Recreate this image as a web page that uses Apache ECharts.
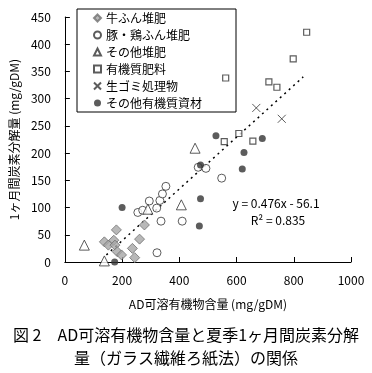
<!DOCTYPE html>
<html><head><meta charset="utf-8">
<script src="https://cdn.jsdelivr.net/npm/echarts@6/dist/echarts.min.js"></script>
<style>html,body{margin:0;padding:0;background:#fff}#c{width:372px;height:373px}</style>
</head><body><div id="c"></div>
<script>
const FONT = '"Noto Sans CJK JP", "Noto Sans", sans-serif';
const seriesNames = ['牛ふん堆肥', '豚・鶏ふん堆肥', 'その他堆肥', '有機質肥料', '生ゴミ処理物', 'その他有機質資材'];
const cattleManure = [[180,59],[278,68],[261,42],[138,37],[152,31],[171,40],[175,31],[183,19],[198,13],[236,25],[244,8]];
const pigChickenManure = [[255,91],[272,95],[295,112],[321,99],[332,113],[341,125],[353,139],[336,75],[410,75],[322,17],[466,174],[493,172],[548,154]];
const otherCompost = [[68,31],[138,2],[290,97],[407,105],[455,209]];
const organicFertilizer = [[557,221],[608,236],[657,222],[562,338],[713,331],[741,321],[798,373],[845,422]];
const foodWaste = [[669,283],[758,263]];
const otherOrganic = [[200,100],[174,0],[528,232],[474,178],[474,116],[470,66],[690,227],[626,201],[620,171]];
const trendLine = [[145,13],[833,340]];
const equationText = 'y = 0.476x - 56.1';
const r2Text = 'R² = 0.835';
const xAxisName = 'AD可溶有機物含量 (mg/gDM)';
const yAxisName = '1ヶ月間炭素分解量 (mg/gDM)';
const captionLine1 = '図 2　AD可溶有機物含量と夏季1ヶ月間炭素分解';
const captionLine2 = '量（ガラス繊維ろ紙法）の関係';

const chart = echarts.init(document.getElementById('c'));
const crossPath = 'path://M0,0L10,10M10,0L0,10';
chart.setOption({
  animation: false,
  backgroundColor: '#fff',
  textStyle: {fontFamily: FONT},
  title: [
    {text: captionLine1, left: 'center', top: 322, textStyle: {fontSize: 16, fontWeight: 'normal', color: '#000', fontFamily: FONT}},
    {text: captionLine2, left: 'center', top: 345, textStyle: {fontSize: 16, fontWeight: 'normal', color: '#000', fontFamily: FONT}}
  ],
  grid: {left: 61, right: 21, top: 17, bottom: 111},
  legend: {
    orient: 'vertical', left: 77, top: 9,
    borderColor: '#000', borderWidth: 1,
    padding: [3, 34, 3, 16],
    itemWidth: 7, itemHeight: 7, itemGap: 5,
    textStyle: {fontSize: 12, color: '#000', fontFamily: FONT},
    data: [
      {name: seriesNames[0], icon: 'diamond'},
      {name: seriesNames[1], icon: 'circle'},
      {name: seriesNames[2], icon: 'triangle'},
      {name: seriesNames[3], icon: 'rect'},
      {name: seriesNames[4], icon: crossPath},
      {name: seriesNames[5], icon: 'circle'}
    ]
  },
  xAxis: {
    type: 'value', min: 0, max: 1000, interval: 200,
    name: xAxisName, nameLocation: 'middle', nameGap: 36,
    nameTextStyle: {fontSize: 12, color: '#000', fontFamily: FONT},
    axisLine: {lineStyle: {color: '#000', width: 1}},
    axisTick: {inside: true, length: 5, lineStyle: {color: '#000'}},
    axisLabel: {fontSize: 12, color: '#000', margin: 12, fontFamily: FONT, formatter: v => String(v)},
    splitLine: {show: false}
  },
  yAxis: {
    type: 'value', min: 0, max: 450, interval: 50,
    name: yAxisName, nameLocation: 'middle', nameGap: 44,
    nameTextStyle: {fontSize: 12, color: '#000', fontFamily: FONT},
    axisLine: {show: true, lineStyle: {color: '#000', width: 1}},
    axisTick: {show: true, inside: true, length: 5, lineStyle: {color: '#000'}},
    axisLabel: {fontSize: 12, color: '#000', margin: 14, fontFamily: FONT},
    splitLine: {show: false}
  },
  series: [
    {name: seriesNames[0], type: 'scatter', symbol: 'diamond', symbolSize: 10, data: cattleManure,
     itemStyle: {color: '#a6a6a6', borderColor: '#707070', borderWidth: 1}},
    {name: seriesNames[1], type: 'scatter', symbol: 'circle', symbolSize: 8, data: pigChickenManure,
     itemStyle: {color: '#fff', borderColor: '#333', borderWidth: 1}},
    {name: seriesNames[2], type: 'scatter', symbol: 'triangle', symbolSize: 10, data: otherCompost,
     itemStyle: {color: '#fff', borderColor: '#333', borderWidth: 1}},
    {name: seriesNames[3], type: 'scatter', symbol: 'rect', symbolSize: 6, data: organicFertilizer,
     itemStyle: {color: '#fff', borderColor: '#333', borderWidth: 1.2}},
    {name: seriesNames[4], type: 'scatter', symbol: crossPath, symbolSize: 8, data: foodWaste,
     itemStyle: {color: 'transparent', borderColor: '#333', borderWidth: 1}},
    {name: seriesNames[5], type: 'scatter', symbol: 'circle', symbolSize: 7, data: otherOrganic,
     itemStyle: {color: '#333', borderColor: '#333', borderWidth: 0}, z: 3},
    {name: 'trend', type: 'line', data: trendLine, symbol: 'none', silent: true,
     lineStyle: {color: '#000', width: 1.5, type: [2, 4]}, z: 1}
  ],
  graphic: [
    {type: 'text', x: 276, y: 203, style: {text: equationText, align: 'center', verticalAlign: 'middle', fill: '#000', font: '12px ' + FONT}},
    {type: 'text', x: 278, y: 220, style: {text: r2Text, align: 'center', verticalAlign: 'middle', fill: '#000', font: '12px ' + FONT}}
  ]
});
</script></body></html>
